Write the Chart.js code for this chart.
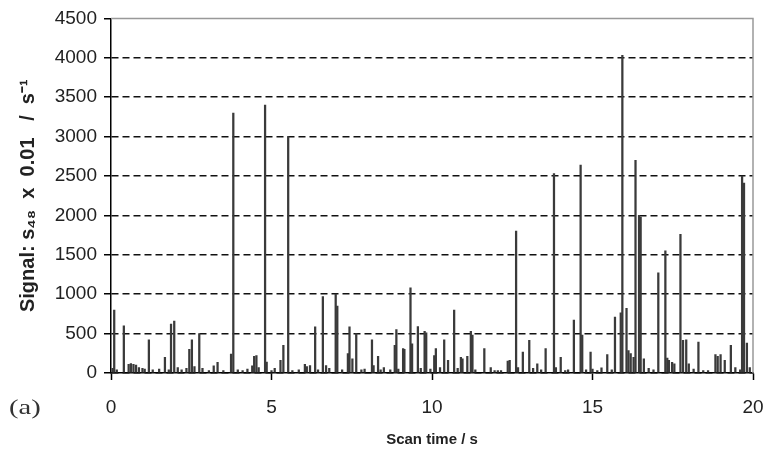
<!DOCTYPE html>
<html>
<head>
<meta charset="utf-8">
<script src="https://cdn.jsdelivr.net/npm/chart.js@4.4.1/dist/chart.umd.min.js"></script>
<style>
  body { margin: 0; background: #fff; }
  #wrap { width: 766px; height: 459px; }
</style>
</head>
<body>
<div id="wrap"><canvas id="myChart"></canvas></div>
<script>
// scan time (s) of each recorded spike
const scanTimes = [
    0.05, 0.10, 0.18, 0.40, 0.55, 0.62, 0.70, 0.78, 0.87, 0.98,
    1.05, 1.18, 1.30, 1.50, 1.68, 1.80, 1.87, 1.97, 2.08, 2.20,
    2.35, 2.44, 2.52, 2.60, 2.75, 2.85, 3.05, 3.20, 3.32, 3.50,
    3.74, 3.81, 3.95, 4.10, 4.25, 4.40, 4.46, 4.53, 4.60, 4.80,
    4.85, 5.00, 5.10, 5.28, 5.37, 5.52, 5.65, 5.85, 6.04, 6.10,
    6.20, 6.36, 6.45, 6.60, 6.70, 6.80, 7.00, 7.05, 7.20, 7.38,
    7.43, 7.52, 7.64, 7.80, 7.90, 8.13, 8.18, 8.32, 8.40, 8.50,
    8.70, 8.84, 8.89, 8.95, 9.10, 9.14, 9.33, 9.38, 9.56, 9.65,
    9.77, 9.82, 9.95, 10.07, 10.12, 10.25, 10.38, 10.50, 10.69, 10.80,
    10.90, 10.95, 11.10, 11.21, 11.26, 11.35, 11.63, 11.83, 11.95, 12.05,
    12.15, 12.36, 12.42, 12.62, 12.68, 12.83, 13.03, 13.15, 13.28, 13.40,
    13.54, 13.80, 13.86, 14.01, 14.15, 14.24, 14.42, 14.63, 14.68, 14.80,
    14.94, 15.00, 15.15, 15.28, 15.46, 15.60, 15.70, 15.88, 15.93, 16.06,
    16.12, 16.19, 16.28, 16.34, 16.45, 16.50, 16.60, 16.75, 16.90, 17.05,
    17.27, 17.33, 17.38, 17.48, 17.55, 17.74, 17.82, 17.92, 18.00, 18.15,
    18.30, 18.45, 18.60, 18.83, 18.90, 18.99, 19.12, 19.31, 19.45, 19.60,
    19.66, 19.72, 19.81, 19.90
];

// signal s48 x 0.01 / s^-1 at each of those times
const signals = [
    60, 800, 40, 600, 110, 120, 110, 100, 70, 60,
    50, 420, 40, 50, 200, 40, 620, 660, 70, 40,
    60, 300, 420, 80, 500, 60, 30, 90, 135, 30,
    240, 3300, 40, 30, 50, 90, 210, 220, 70, 3400,
    140, 30, 60, 160, 350, 3000, 30, 40, 110, 80,
    95, 585, 40, 970, 95, 60, 1000, 850, 40, 245,
    585, 180, 500, 40, 50, 420, 95, 210, 40, 70,
    40, 350, 550, 50, 310, 300, 1080, 370, 590, 60,
    530, 510, 50, 220, 310, 70, 420, 160, 800, 60,
    200, 180, 210, 530, 480, 40, 310, 70, 30, 30,
    30, 150, 160, 1800, 70, 265, 415, 60, 115, 40,
    310, 2530, 70, 200, 30, 40, 670, 2640, 480, 40,
    265, 50, 30, 65, 235, 40, 710, 765, 4030, 820,
    286, 245, 200, 2700, 2000, 1980, 180, 60, 40, 1270,
    1550, 190, 160, 135, 115, 1760, 415, 420, 115, 50,
    393, 30, 30, 235, 210, 235, 160, 350, 70, 40,
    2500, 2410, 380, 70
];

const yTicks = [0, 500, 1000, 1500, 2000, 2500, 3000, 3500, 4000, 4500];
const xTicks = [0, 5, 10, 15, 20];

const points = scanTimes.map((t, i) => ({ x: t, y: signals[i] }));

// grey frame on top and right, and the panel letter
const framePlugin = {
    id: 'frame',
    afterDraw(chart) {
        const { ctx, chartArea } = chart;
        ctx.save();
        ctx.strokeStyle = '#999';
        ctx.lineWidth = 1.5;
        ctx.beginPath();
        ctx.moveTo(chartArea.left, chartArea.top);
        ctx.lineTo(chartArea.right, chartArea.top);
        ctx.lineTo(chartArea.right, chartArea.bottom);
        ctx.stroke();
        ctx.fillStyle = '#333';
        ctx.font = '22px "Liberation Serif", serif';
        ctx.textBaseline = 'middle';
        ctx.translate(9, 408);
        ctx.scale(1.3, 1);
        ctx.fillText('(a)', 0, 0);
        ctx.restore();
    }
};

const config = {
    type: 'bar',
    data: {
        datasets: [{
            data: points,
            backgroundColor: '#3a3a3a',
            barThickness: 1.6,
        }]
    },
    options: {
        responsive: true,
        maintainAspectRatio: false,
        animation: false,
        layout: { padding: { top: 17, right: 13, left: 0, bottom: 0 } },
        plugins: {
            legend: { display: false },
            tooltip: { enabled: false },
        },
        scales: {
            x: {
                type: 'linear',
                min: 0,
                max: 20,
                offset: false,
                afterBuildTicks: (scale) => { scale.ticks = xTicks.map(v => ({ value: v })); },
                afterFit: (scale) => {
                    scale.height = 86;
                    scale.paddingLeft = 0;
                    scale.paddingRight = 0;
                },
                grid: {
                    drawOnChartArea: false,
                    offset: false,
                    tickLength: 7,
                    tickColor: '#000',
                    tickWidth: 1.5,
                },
                border: { color: '#000', width: 1.5 },
                ticks: {
                    padding: 16,
                    color: '#222',
                    maxRotation: 0,
                    callback: (v) => String(v),
                    font: { family: '"Liberation Sans", Arial, sans-serif', size: 19 },
                },
                title: {
                    display: true,
                    text: 'Scan time / s',
                    color: '#222',
                    padding: { top: 0, bottom: 10 },
                    font: { family: '"Liberation Sans", Arial, sans-serif', size: 15, weight: 'bold' },
                }
            },
            y: {
                min: 0,
                max: 4500,
                afterBuildTicks: (scale) => { scale.ticks = yTicks.map(v => ({ value: v })); },
                afterFit: (scale) => { scale.width = 111; },
                grid: {
                    color: (c) => (c.tick && c.tick.value === 4500) ? 'rgba(0,0,0,0)' : '#111',
                    lineWidth: 1.5,
                    tickLength: 7,
                    tickColor: '#000',
                    tickWidth: 1.5,
                    tickBorderDash: [],
                },
                border: { color: '#000', width: 1.5, dash: [7, 4] },
                ticks: {
                    padding: 7,
                    color: '#222',
                    callback: (v) => String(v),
                    font: { family: '"Liberation Sans", Arial, sans-serif', size: 19 },
                },
                title: {
                    display: true,
                    text: 'Signal: s\u2084\u2088  x  0.01   /  s\u207B\u00B9',
                    color: '#222',
                    padding: { top: 16, bottom: 0 },
                    font: { family: '"Liberation Sans", Arial, sans-serif', size: 20, weight: 'bold' },
                }
            }
        }
    },
    plugins: [framePlugin]
};

window.myChart = new Chart(document.getElementById('myChart'), config);
</script>
</body>
</html>
